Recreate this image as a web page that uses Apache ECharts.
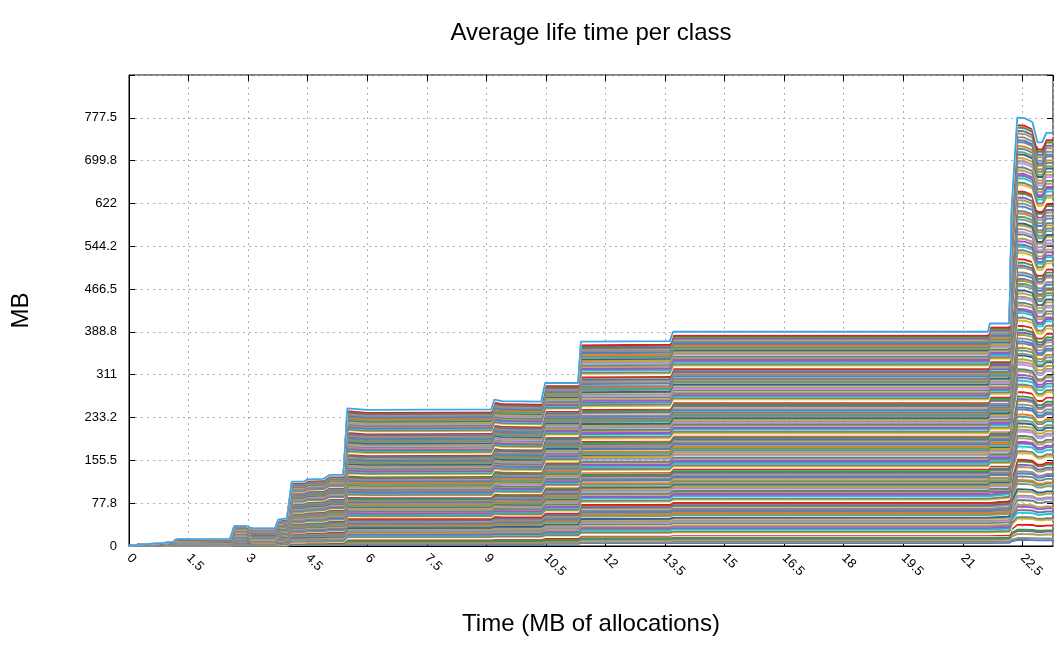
<!DOCTYPE html>
<html>
<head>
<meta charset="utf-8">
<style>
  html, body { margin: 0; padding: 0; background: #ffffff; }
  #chart { width: 1054px; height: 646px; }
</style>
<script src="https://cdn.jsdelivr.net/npm/echarts@6/dist/echarts.min.js"></script>
</head>
<body>
<div id="chart"></div>
<script>
// ---- data ----
// time points (MB of allocations) where the stacked total changes
const timePoints = [0, 0.25, 0.7, 0.75, 1.1, 1.15, 1.2, 2.55, 2.65, 2.95, 3.1, 3.68, 3.76, 3.98,
  4.1, 4.4, 4.5, 4.9, 5.05, 5.4, 5.5, 6.0, 9.12, 9.2, 9.4, 10.38, 10.48, 11.31, 11.38,
  13.62, 13.7, 21.63, 21.68, 22.17, 22.23, 22.37, 22.55, 22.75, 22.88, 23.0, 23.1, 23.27];
// top envelope (sum of all classes, MB)
const totalLifeTime = [0, 2.5, 4.5, 6, 7, 10, 12.5, 13, 36, 36, 32, 32, 48, 50,
  117, 117, 121, 122, 129, 129, 250, 247, 248, 266, 263, 262, 296, 296, 371,
  372, 389, 389, 404, 404, 615, 778, 777, 770, 733, 733, 750, 750];
// estimated relative size of each class in the stack (bottom to top)
const classShares = [
  1.8, 0.6, 1.2, 0.9, 0.4, 1.5, 0.7, 1.1, 0.5, 1.3, 0.8, 1.0, 0.6, 1.4,
  0.9, 0.5, 1.2, 0.7, 1.6, 0.8, 0.4, 1.1, 0.9, 0.6, 1.3, 0.7, 1.0, 0.5,
  1.2, 0.8, 0.6, 1.4, 0.9, 0.5, 1.1, 0.7, 1.3, 0.6, 0.9, 1.0, 0.8, 1.2,
  0.7, 1.5, 0.6, 0.9, 1.1, 0.5, 0.8, 1.3, 0.7, 1.0, 0.6, 1.2, 0.9, 0.8,
  1.1, 0.6, 1.4, 0.7, 0.9, 1.2, 0.5, 1.0, 0.8, 1.3, 0.6, 0.9, 1.1, 0.7,
  0.8, 1.2, 0.6, 1.0, 0.9, 1.4, 0.7, 0.5, 1.1, 0.8, 1.2, 0.6, 1.0, 0.9,
  1.3, 0.7, 0.9, 0.6, 1.1, 0.8, 1.5, 0.6, 0.9, 1.0, 0.7, 1.2, 0.8, 1.1,
  0.6, 1.0, 0.8, 1.3, 0.7, 0.9, 1.1, 0.6, 1.2, 0.8, 1.0, 0.7, 1.4, 0.9,
  1.0, 0.8, 1.2, 0.6, 0.9, 1.1, 0.7, 1.3, 0.8, 0.6, 1.0, 0.9, 1.2, 0.7,
  0.9, 1.1, 0.7, 1.0, 0.8, 1.2, 0.6, 0.9, 1.1, 0.8, 1.0, 0.7, 1.3, 1.0
];
const yTickLabels = ['0', '77.8', '155.5', '233.2', '311', '388.8', '466.5', '544.2', '622', '699.8', '777.5'];
const xTickLabels = ['0', '1.5', '3', '4.5', '6', '7.5', '9', '10.5', '12', '13.5', '15', '16.5', '18', '19.5', '21', '22.5'];

// ---- styles ----
const lineColors = ['#4a7fc4', '#8c8c8c', '#a89c50', '#7a5cc8', '#3a9a3a', '#e02020', '#ffffff',
  '#d8c020', '#7f7f7f', '#20c8d8', '#6c7c8c', '#a050e0', '#b89c5c', '#5a8a6a', '#c890f0',
  '#9a9a9a', '#c0a830', '#3060a0', '#8a9a6a', '#40a0a0', '#e08020', '#708090'];
const FONT = '"Liberation Sans", Arial, sans-serif';

// stacked (cumulative) level of every class line
const shareSum = classShares.reduce((a, b) => a + b, 0);
let running = 0;
const series = classShares.map((s, i) => {
  running += s;
  const frac = running / shareSum;
  const last = i === classShares.length - 1;
  return {
    type: 'line',
    name: 'class ' + (i + 1),
    showSymbol: false,
    symbol: 'none',
    silent: true,
    xAxisIndex: 0, yAxisIndex: 0,
    lineStyle: { width: last ? 1.8 : 1.9, color: last ? '#3aa6e6' : lineColors[i % lineColors.length] },
    data: timePoints.map((t, j) => [t, totalLifeTime[j] * frac])
  };
});

const chart = echarts.init(document.getElementById('chart'), null, { renderer: 'canvas' });
chart.setOption({
  animation: false,
  backgroundColor: '#ffffff',
  title: {
    text: 'Average life time per class',
    left: 591, top: 21, textAlign: 'center', padding: 0,
    textStyle: { fontFamily: FONT, fontSize: 24, fontWeight: 'normal', color: '#000' }
  },
  grid: {
    left: 129, right: 1, top: 75, bottom: 100,
    show: true, borderColor: '#000', borderWidth: 1, backgroundColor: 'transparent'
  },
  xAxis: [{
    type: 'value', min: 0, max: 23.27, interval: 1.5,
    name: 'Time (MB of allocations)', nameLocation: 'middle', nameGap: 66,
    nameTextStyle: { fontFamily: FONT, fontSize: 24, color: '#000' },
    axisLine: { show: true, onZero: false, lineStyle: { color: '#000', width: 1 } },
    axisTick: { show: true, inside: true, length: 6, lineStyle: { color: '#000' } },
    axisLabel: {
      rotate: -45, margin: 10, fontFamily: FONT, fontSize: 13, color: '#000',
      showMaxLabel: false,
      formatter: v => { const k = Math.round(v / 1.5); return Math.abs(v - k * 1.5) < 1e-6 && xTickLabels[k] !== undefined ? xTickLabels[k] : ''; }
    },
    splitLine: { show: true, lineStyle: { color: '#b0b0b0', width: 1, type: [2, 4] } }
  }, {
    type: 'value', position: 'top', min: 0, max: 23.27, interval: 1.5,
    axisLine: { show: false, onZero: false }, axisLabel: { show: false }, splitLine: { show: false },
    axisTick: { show: true, inside: true, length: 6, lineStyle: { color: '#000' } }
  }],
  yAxis: [{
    type: 'value', min: 0, max: 855.25, interval: 77.75,
    name: 'MB', nameLocation: 'middle', nameGap: 96, nameRotate: 90,
    nameTextStyle: { fontFamily: FONT, fontSize: 24, color: '#000' },
    axisLine: { show: true, onZero: false, lineStyle: { color: '#000', width: 1 } },
    axisTick: { show: true, inside: true, length: 6, lineStyle: { color: '#000' } },
    axisLabel: {
      margin: 12, fontFamily: FONT, fontSize: 13, color: '#000',
      formatter: v => { const k = Math.round(v / 77.75); return yTickLabels[k] !== undefined ? yTickLabels[k] : ''; }
    },
    splitLine: { show: true, lineStyle: { color: '#b0b0b0', width: 1, type: [2, 4] } }
  }, {
    type: 'value', position: 'right', min: 0, max: 855.25, interval: 77.75,
    axisLine: { show: false, onZero: false }, axisLabel: { show: false }, splitLine: { show: false },
    axisTick: { show: true, inside: true, length: 6, lineStyle: { color: '#000' } }
  }],
  series: series
});
</script>
</body>
</html>
